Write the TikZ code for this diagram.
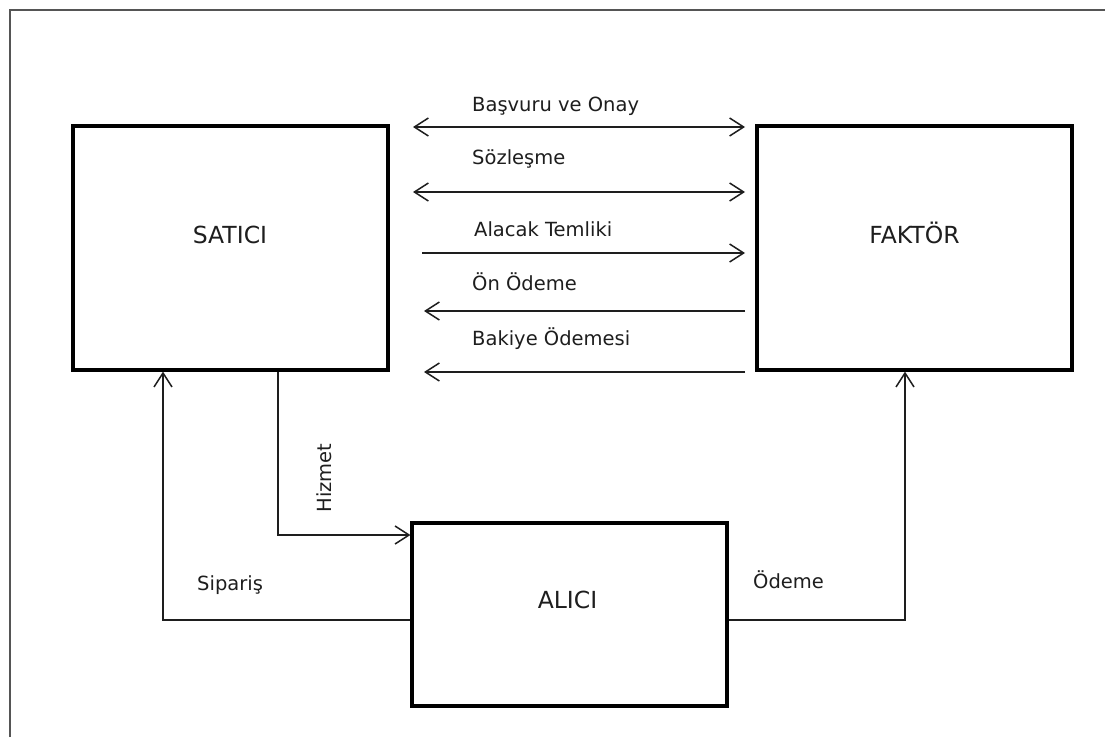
\documentclass[tikz,border=0pt]{standalone}
\usepackage{fontspec}
\setmainfont{DejaVu Sans}
\usetikzlibrary{arrows.meta}
\definecolor{ink}{HTML}{1E1E1E}
\definecolor{framec}{HTML}{555555}
\begin{document}
\begin{tikzpicture}[x=1pt,y=-1pt,
  box/.style={draw=black,line width=3.2pt,rectangle,inner sep=0pt},
  boxtext/.style={anchor=base,inner sep=0pt,text=ink,font=\fontsize{23.5}{28}\selectfont},
  lbl/.style={inner sep=0pt,text=ink,font=\fontsize{19.5}{24}\selectfont},
  conn/.style={draw=ink,line width=1.5pt,>={Straight Barb[length=14pt,width=18pt,line width=1.5pt]}}
]
\useasboundingbox (0,0) rectangle (1105,737);
\fill[white] (0,0) rectangle (1105,737);
% outer frame (only top and left edges visible)
\draw[framec,line width=2pt] (10,737) -- (10,10) -- (1105,10);

% boxes
\node[box,minimum width=315pt,minimum height=244pt] (satici) at (230.5,248) {};
\node[box,minimum width=315pt,minimum height=244pt] (faktor) at (914.5,248) {};
\node[box,minimum width=315pt,minimum height=183pt] (alici) at (569.5,614.5) {};

\node[boxtext] (tsat) at (230,243) {SATICI};
\node[boxtext] (tfak) at (914.5,243) {FAKTÖR};
\node[boxtext] (tali) at (567.5,608) {ALICI};

% horizontal connectors
\coordinate (a1l) at (413,127); \coordinate (a1r) at (745,127);
\coordinate (a2l) at (413,192); \coordinate (a2r) at (745,192);
\coordinate (a3l) at (422,253); \coordinate (a3r) at (745,253);
\coordinate (a4l) at (424,311); \coordinate (a4r) at (745,311);
\coordinate (a5l) at (424,372); \coordinate (a5r) at (745,372);
\draw[conn,<->] (a1l) -- (a1r);
\draw[conn,<->] (a2l) -- (a2r);
\draw[conn,->] (a3l) -- (a3r);
\draw[conn,->] (a4r) -- (a4l);
\draw[conn,->] (a5r) -- (a5l);

\node[lbl,anchor=base west] (l1) at (472,111) {Başvuru ve Onay};
\node[lbl,anchor=base west] (l2) at (472,164) {Sözleşme};
\node[lbl,anchor=base west] (l3) at (474,236) {Alacak Temliki};
\node[lbl,anchor=base west] (l4) at (472,290) {Ön Ödeme};
\node[lbl,anchor=base west] (l5) at (472,345) {Bakiye Ödemesi};

% vertical / elbow connectors
\coordinate (hz) at (278,535);
\coordinate (sp) at (163,620);
\coordinate (od) at (905,620);
\draw[conn,->] (satici.south -| hz) |- (alici.west |- hz);
\draw[conn,->] (alici.west |- sp) -| (satici.south -| sp);
\draw[conn,->] (alici.east |- od) -| (faktor.south -| od);

\node[lbl,rotate=90] (lhz) at (324,478) {Hizmet};
\node[lbl,anchor=base west] (lsp) at (197,590) {Sipariş};
\node[lbl,anchor=base west] (lod) at (753,588) {Ödeme};
\end{tikzpicture}
\end{document}
